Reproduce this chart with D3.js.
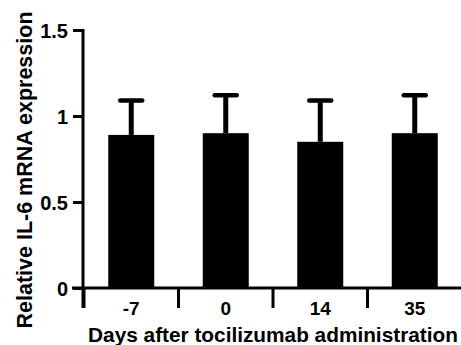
<!DOCTYPE html>
<html>
<head>
<meta charset="utf-8">
<script src="https://cdn.jsdelivr.net/npm/d3@7"></script>
<style>
  body { margin: 0; background: #fff; }
  text { font-family: "Liberation Sans", Arial, sans-serif; font-weight: bold; fill: #000; }
</style>
</head>
<body>
<svg id="chart" width="461" height="345"></svg>
<script>
// données
const categories = ["-7", "0", "14", "35"];
const moyennes = [0.89, 0.90, 0.85, 0.90];
const ecarts = [0.20, 0.22, 0.24, 0.22];
const yTicks = [0, 0.5, 1, 1.5];
const yTickLabels = ["0", "0.5", "1", "1.5"];

const svg = d3.select("#chart");
const x0 = 84, x1 = 462, yBase = 288, yTop = 30;

const x = d3.scaleBand().domain(categories).range([x0, x1]).paddingInner(0).paddingOuter(0);
const y = d3.scaleLinear().domain([0, 1.5]).range([yBase, yTop]);
const barW = 46;

// barres
svg.selectAll("rect.bar").data(categories).enter().append("rect")
    .attr("class", "bar")
    .attr("x", (d) => x(d) + x.bandwidth() / 2 - barW / 2)
    .attr("width", barW)
    .attr("y", (d, i) => y(moyennes[i]))
    .attr("height", (d, i) => yBase - y(moyennes[i]))
    .attr("fill", "#000");

// barres d'erreur (vers le haut seulement)
const err = svg.append("g").attr("stroke", "#000").attr("stroke-width", 4.5).attr("stroke-linecap", "round");
categories.forEach((c, i) => {
    let cx = x(c) + x.bandwidth() / 2;
    err.append("line").attr("x1", cx).attr("x2", cx).attr("y1", y(moyennes[i])).attr("y2", y(moyennes[i] + ecarts[i])).attr("stroke-linecap", "butt").attr("stroke-width", 5);
    err.append("line").attr("x1", cx - 11).attr("x2", cx + 11).attr("y1", y(moyennes[i] + ecarts[i])).attr("y2", y(moyennes[i] + ecarts[i]));
});

// axe Y
const yAxis = svg.append("g").attr("transform", "translate(" + (x0 - 1) + ",0)")
    .call(d3.axisLeft(y).tickValues(yTicks).tickFormat((d, i) => yTickLabels[i]).tickSize(10).tickPadding(5));
yAxis.select(".domain").remove();
yAxis.append("line").attr("x1", 0).attr("x2", 0).attr("y1", yTop - 1).attr("y2", 308).attr("stroke", "#000").attr("stroke-width", 3);
yAxis.selectAll(".tick line").attr("stroke-width", 3);
yAxis.selectAll(".tick text").style("font-size", "20px").attr("dy", "0.36em");

// axe X
const xAxis = svg.append("g").attr("transform", "translate(0," + yBase + ")");
xAxis.append("line").attr("x1", x0 - 12).attr("x2", x1).attr("y1", 0).attr("y2", 0).attr("stroke", "#000").attr("stroke-width", 3);
categories.forEach((c) => {
    xAxis.append("line").attr("x1", x(c)).attr("x2", x(c)).attr("y1", 0).attr("y2", 20).attr("stroke", "#000").attr("stroke-width", 3);
    xAxis.append("text").attr("x", x(c) + x.bandwidth() / 2).attr("y", 27).attr("text-anchor", "middle").style("font-size", "19px").text(c);
});

// titres
svg.append("text").attr("x", 273).attr("y", 342).attr("text-anchor", "middle").style("font-size", "20.8px").text("Days after tocilizumab administration");
svg.append("text").attr("transform", "translate(32,170) rotate(-90)").attr("text-anchor", "middle").style("font-size", "21.5px").text("Relative IL-6 mRNA expression");
</script>
</body>
</html>
